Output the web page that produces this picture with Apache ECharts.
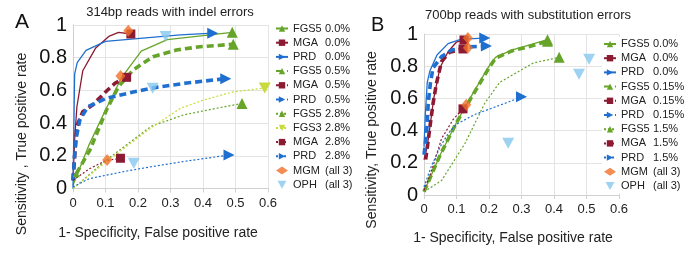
<!DOCTYPE html>
<html><head><meta charset="utf-8">
<script src="https://cdn.jsdelivr.net/npm/echarts@6/dist/echarts.min.js"></script>
<style>html,body{margin:0;padding:0;background:#fff}#c{width:685px;height:263px}</style>
</head><body><div id="c"></div>
<script>
// ---- tick values ----
const xTicks = [0, 0.1, 0.2, 0.3, 0.4, 0.5, 0.6];
const yTicks = [0, 0.2, 0.4, 0.6, 0.8, 1];

// ---- Panel A: 314bp reads with indel errors ----
const A_FGS5_00 = [[0,0.02],[0.05,0.27],[0.1,0.48],[0.15,0.68],[0.21,0.84],[0.29,0.91],[0.49,0.955]];
const A_MGA_00  = [[0,0.05],[0.005,0.3],[0.012,0.5],[0.03,0.72],[0.07,0.86],[0.11,0.93],[0.14,0.955],[0.178,0.945]];
const A_PRD_00  = [[0,0],[0.005,0.7],[0.013,0.77],[0.04,0.845],[0.1,0.9],[0.33,0.94],[0.43,0.95]];
const A_FGS5_05 = [[0.01,0.09],[0.052,0.235],[0.103,0.48],[0.139,0.62],[0.185,0.725],[0.246,0.806],[0.318,0.847],[0.39,0.867],[0.493,0.882]];
const A_MGA_05  = [[0,0.05],[0.005,0.2],[0.012,0.38],[0.03,0.47],[0.06,0.51],[0.1,0.59],[0.13,0.645],[0.165,0.68]];
const A_PRD_05  = [[0,0.05],[0.005,0.2],[0.009,0.3],[0.021,0.42],[0.046,0.5],[0.1,0.55],[0.185,0.59],[0.26,0.62],[0.35,0.645],[0.47,0.672]];
const A_FGS5_28 = [[0,0],[0.1,0.17],[0.24,0.38],[0.34,0.45],[0.44,0.49],[0.52,0.52]];
const A_FGS3_28 = [[0,0],[0.1,0.16],[0.24,0.37],[0.33,0.49],[0.4,0.54],[0.49,0.59],[0.59,0.615]];
const A_MGA_28  = [[0,0.05],[0.05,0.12],[0.1,0.17],[0.146,0.185]];
const A_PRD_28  = [[0,0.01],[0.05,0.06],[0.16,0.105],[0.24,0.133],[0.34,0.165],[0.48,0.205]];
const A_MGM     = [[0.17,0.965],[0.146,0.688],[0.105,0.174]];
const A_OPH     = [[0.285,0.93],[0.245,0.613],[0.187,0.155]];

// ---- Panel B: 700bp reads with substitution errors ----
const B_FGS5_00  = [[0,0.02],[0.05,0.25],[0.1,0.45],[0.15,0.63],[0.2,0.8],[0.22,0.855],[0.27,0.9],[0.32,0.93],[0.38,0.965]];
const B_MGA_00   = [[0,0.22],[0.01,0.3],[0.02,0.45],[0.03,0.6],[0.049,0.79],[0.074,0.89],[0.1,0.95],[0.123,0.963]];
const B_PRD_00   = [[0,0.3],[0.004,0.5],[0.01,0.7],[0.018,0.77],[0.04,0.87],[0.074,0.94],[0.115,0.968],[0.187,0.975]];
const B_FGS5_015 = [[0,0.02],[0.05,0.25],[0.1,0.45],[0.15,0.62],[0.2,0.79],[0.22,0.85],[0.27,0.895],[0.32,0.92],[0.38,0.955]];
const B_MGA_015  = [[0.005,0.22],[0.013,0.34],[0.02,0.45],[0.028,0.57],[0.038,0.69],[0.054,0.83],[0.079,0.886],[0.12,0.907]];
const B_PRD_015  = [[0,0.25],[0.008,0.38],[0.013,0.57],[0.02,0.7],[0.028,0.79],[0.054,0.86],[0.085,0.9],[0.14,0.92],[0.192,0.925]];
const B_FGS5_15  = [[0,0.02],[0.054,0.09],[0.126,0.32],[0.187,0.57],[0.233,0.7],[0.336,0.82],[0.416,0.855]];
const B_MGA_15   = [[0,0.03],[0.02,0.13],[0.054,0.35],[0.09,0.47],[0.12,0.535]];
const B_PRD_15   = [[0,0.05],[0.023,0.18],[0.05,0.3],[0.074,0.38],[0.1,0.44],[0.156,0.5],[0.25,0.57],[0.3,0.61]];
const B_MGM      = [[0.135,0.975],[0.135,0.915],[0.13,0.56]];
const B_OPH      = [[0.259,0.321],[0.477,0.75],[0.508,0.843]];

// ---- styles ----
const C = {fgs5:'#67a52a', mga:'#8c1a33', prd:'#1f6fd0', fgs3:'#c9da3c', mgm:'#f07028', oph:'#86c7ef'};
const LS = {
  solid:{width:1.3, type:'solid'},
  dash:{width:3.6, type:[7,4]},
  dot:{width:1.2, type:[2,2]}
};
const DOWN = 'path://M0,0 L10,0 L5,9 Z';
const SYM = {
  fgs5:{symbol:'triangle', rotate:0, size:11},
  fgs3:{symbol:DOWN, rotate:0, size:[12,11]},
  mga:{symbol:'rect', rotate:0, size:9},
  prd:{symbol:'triangle', rotate:-90, size:11}
};
const FONT = 'Liberation Sans, Arial, sans-serif';

function lineSeries(name, pts, kind, style, g, startMark){
  const s = SYM[kind];
  const n = pts.length;
  return {
    type:'line', name:name, xAxisIndex:g, yAxisIndex:g,
    symbol:s.symbol, symbolRotate:s.rotate, symbolSize:s.size,
    showSymbol:true, smooth:false, animation:false, z:3,
    lineStyle:{color:C[kind], width:LS[style].width, type:LS[style].type},
    itemStyle:{color:C[kind]},
    data: pts.map((p,i)=>({value:p, symbol:(i===n-1 || (startMark && i===0)) ? s.symbol : 'none',
        symbolSize:(startMark && i===0) ? 7 : s.size}))
  };
}
function scatter(name, pts, kind, g){
  return {
    type:'scatter', name:name, xAxisIndex:g, yAxisIndex:g, animation:false, z:4,
    symbol: kind==='mgm' ? 'diamond' : DOWN,
    symbolSize: kind==='mgm' ? [10,12] : [12,11],
    itemStyle:{color:C[kind]},
    data: pts
  };
}

const seriesA = [
  lineSeries('A|FGS5|0.0%', A_FGS5_00, 'fgs5', 'solid', 0),
  lineSeries('A|MGA|0.0%',  A_MGA_00,  'mga',  'solid', 0),
  lineSeries('A|PRD|0.0%',  A_PRD_00,  'prd',  'solid', 0),
  lineSeries('A|FGS5|0.5%', A_FGS5_05, 'fgs5', 'dash', 0, true),
  lineSeries('A|MGA|0.5%',  A_MGA_05,  'mga',  'dash', 0),
  lineSeries('A|PRD|0.5%',  A_PRD_05,  'prd',  'dash', 0),
  lineSeries('A|FGS5|2.8%', A_FGS5_28, 'fgs5', 'dot', 0),
  lineSeries('A|FGS3|2.8%', A_FGS3_28, 'fgs3', 'dot', 0),
  lineSeries('A|MGA|2.8%',  A_MGA_28,  'mga',  'dot', 0),
  lineSeries('A|PRD|2.8%',  A_PRD_28,  'prd',  'dot', 0),
  scatter('A|MGM|(all 3)', A_MGM, 'mgm', 0),
  scatter('A|OPH|(all 3)', A_OPH, 'oph', 0)
];
const seriesB = [
  lineSeries('B|FGS5|0.0%',  B_FGS5_00,  'fgs5', 'solid', 1),
  lineSeries('B|MGA|0.0%',   B_MGA_00,   'mga',  'solid', 1),
  lineSeries('B|PRD|0.0%',   B_PRD_00,   'prd',  'solid', 1),
  lineSeries('B|FGS5|0.15%', B_FGS5_015, 'fgs5', 'dash', 1),
  lineSeries('B|MGA|0.15%',  B_MGA_015,  'mga',  'dash', 1),
  lineSeries('B|PRD|0.15%',  B_PRD_015,  'prd',  'dash', 1),
  lineSeries('B|FGS5|1.5%',  B_FGS5_15,  'fgs5', 'dot', 1),
  lineSeries('B|MGA|1.5%',   B_MGA_15,   'mga',  'dot', 1),
  lineSeries('B|PRD|1.5%',   B_PRD_15,   'prd',  'dot', 1),
  scatter('B|MGM|(all 3)', B_MGM, 'mgm', 1),
  scatter('B|OPH|(all 3)', B_OPH, 'oph', 1)
];

function xAxis(g){
  return {type:'value', gridIndex:g, min:xTicks[0], max:xTicks[xTicks.length-1], interval:0.1,
    axisLine:{show:true, lineStyle:{color:'#d0d0d0'}},
    axisTick:{show:true, length:4, lineStyle:{color:'#d0d0d0'}},
    splitLine:{show:true, lineStyle:{color:'#e4e4e4'}},
    axisLabel:{color:'#222', fontSize:13, fontFamily:FONT, margin:8,
      formatter:(v)=>{const t=xTicks.find(k=>Math.abs(k-v)<1e-9); return t===undefined?'':String(t);}}
  };
}
function yAxis(g){
  return {type:'value', gridIndex:g, min:yTicks[0], max:yTicks[yTicks.length-1], interval:0.2,
    axisLine:{show:true, lineStyle:{color:'#d0d0d0'}},
    axisTick:{show:false},
    splitLine:{show:true, lineStyle:{color:'#e4e4e4'}},
    axisLabel:{color:'#111', fontSize:20, fontFamily:FONT, margin:6,
      formatter:(v)=>{const t=yTicks.find(k=>Math.abs(k-v)<1e-9); return t===undefined?'':String(t);}}
  };
}
function legend(prefix, left, top, w){
  return {
    orient:'vertical', left:left, top:top, itemWidth:12, itemHeight:8, itemGap:2.2,
    backgroundColor:'#fff', padding:[1,0,1,1],
    data: (prefix==='A'?seriesA:seriesB).map(s=>s.name),
    textStyle:{fontFamily:FONT, fontSize:11, color:'#222', lineHeight:12,
      rich:{a:{width:w, fontSize:11, fontFamily:FONT, color:'#222'}, b:{fontSize:11, fontFamily:FONT, color:'#222'}}},
    formatter:(n)=>{const p=n.split('|'); return '{a|'+p[1]+'}{b|'+p[2]+'}';},
    selectedMode:false
  };
}

const chart = echarts.init(document.getElementById('c'), null, {renderer:'canvas'});
chart.setOption({
  backgroundColor:'#fff',
  animation:false,
  grid:[
    {left:73, top:25, width:195, height:163.5},
    {left:424, top:34, width:195, height:161}
  ],
  xAxis:[xAxis(0), xAxis(1)],
  yAxis:[yAxis(0), yAxis(1)],
  legend:[legend('A', 274, 21.5, 32), legend('B', 602, 37, 32)],
  graphic:[
    {type:'text', x:15, y:22, style:{text:'A', font:'21px '+FONT, fill:'#111', textAlign:'left', textVerticalAlign:'middle'}},
    {type:'text', x:170, y:12, style:{text:'314bp reads with indel errors', font:'13px '+FONT, fill:'#222', textAlign:'center', textVerticalAlign:'middle'}},
    {type:'text', x:371, y:25, style:{text:'B', font:'20px '+FONT, fill:'#111', textAlign:'left', textVerticalAlign:'middle'}},
    {type:'text', x:528, y:15, style:{text:'700bp reads with substitution errors', font:'13px '+FONT, fill:'#222', textAlign:'center', textVerticalAlign:'middle'}},
    {type:'text', x:22, y:144, rotation:Math.PI/2, style:{text:'Sensitivity , True positive rate', font:'14px '+FONT, fill:'#222', textAlign:'center', textVerticalAlign:'middle'}},
    {type:'text', x:372, y:140, rotation:Math.PI/2, style:{text:'Sensitivity, True positive rate', font:'14px '+FONT, fill:'#222', textAlign:'center', textVerticalAlign:'middle'}},
    {type:'text', x:158, y:233, style:{text:'1- Specificity, False positive rate', font:'14px '+FONT, fill:'#222', textAlign:'center', textVerticalAlign:'middle'}},
    {type:'text', x:513, y:238, style:{text:'1- Specificity, False positive rate', font:'14px '+FONT, fill:'#222', textAlign:'center', textVerticalAlign:'middle'}}
  ],
  series: seriesA.concat(seriesB)
});
</script>
</body></html>
